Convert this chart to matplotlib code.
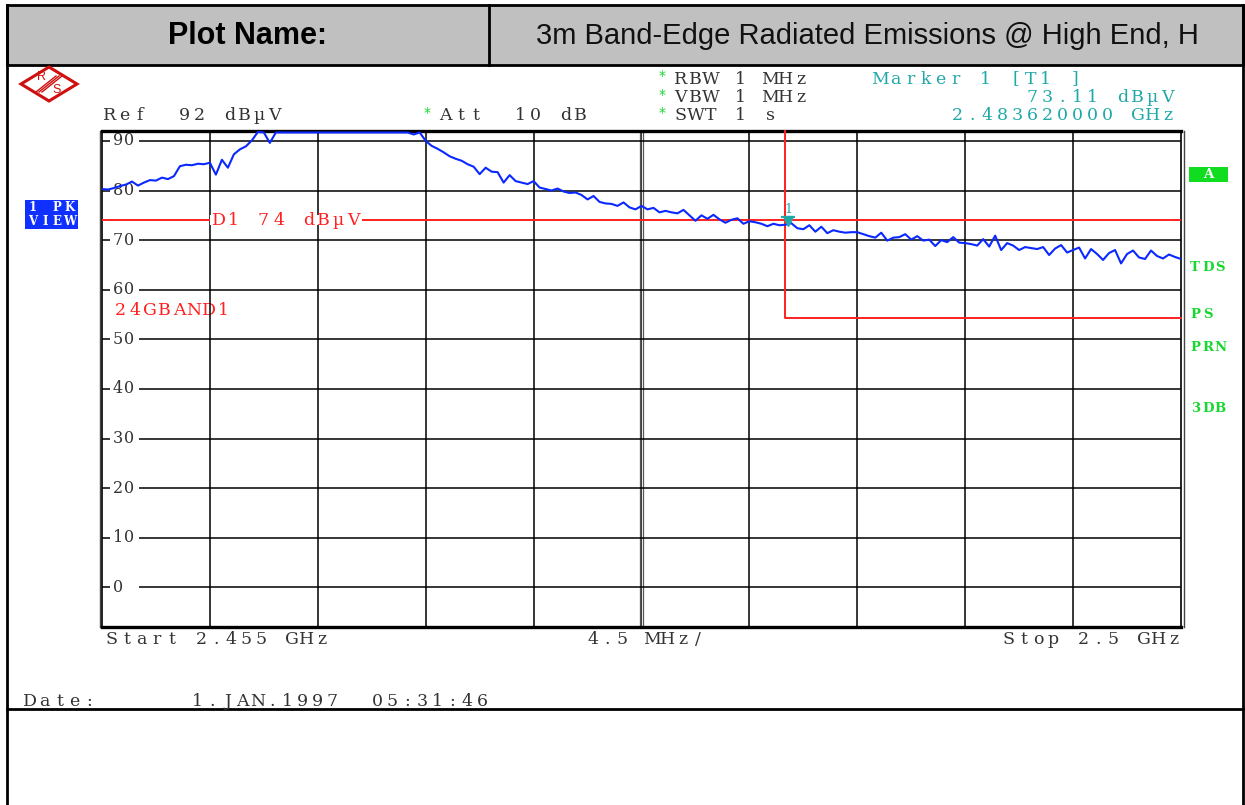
import numpy as np
import matplotlib
matplotlib.use("Agg")
import matplotlib.pyplot as plt
from matplotlib.patches import Rectangle, Polygon
from matplotlib.transforms import blended_transform_factory, offset_copy

# ---------------------------------------------------------------- data
start_ghz = 2.455
stop_ghz = 2.5
ref_level = 92          # dBuV, top of the screen
bottom_level = -8       # dBuV, bottom of the screen
ytick_levels = [90, 80, 70, 60, 50, 40, 30, 20, 10, 0]

# Peak trace, dBuV (181 points across the span)
trace_dbuv = [
    80.3, 80.2, 80.5, 80.9, 81.2, 81.8, 81.0, 81.6, 82.1, 82.0,
    82.6, 82.3, 82.9, 84.9, 85.2, 85.1, 85.4, 85.3, 85.6, 83.2,
    86.2, 84.6, 87.3, 88.3, 88.9, 90.1, 91.8, 91.7, 89.6, 91.7,
    91.7, 91.7, 91.7, 91.7, 91.7, 91.7, 91.7, 91.7, 91.7, 91.7,
    91.7, 91.7, 91.7, 91.7, 91.7, 91.7, 91.7, 91.7, 91.7, 91.7,
    91.7, 91.7, 91.3, 91.7, 90.0, 89.0, 88.4, 87.7, 86.9, 86.4,
    86.0, 85.3, 84.8, 83.3, 84.6, 83.8, 83.7, 81.6, 83.1, 81.9,
    81.6, 81.3, 81.9, 80.6, 80.3, 80.0, 80.4, 79.8, 79.5, 79.6,
    79.1, 78.2, 78.9, 77.7, 77.4, 77.3, 76.9, 77.6, 76.6, 76.2,
    76.9, 76.2, 76.5, 75.6, 75.9, 75.6, 75.4, 76.1, 75.0, 73.9,
    75.0, 74.3, 75.1, 74.2, 73.5, 74.1, 74.4, 73.3, 73.8, 73.6,
    73.3, 72.8, 73.3, 73.0, 73.1, 73.4, 72.4, 72.2, 73.0, 71.7,
    72.7, 71.4, 72.0, 71.7, 71.5, 71.6, 71.6, 71.2, 70.8, 70.5,
    71.5, 69.9, 70.5, 70.6, 71.2, 70.1, 70.8, 69.9, 70.1, 68.8,
    70.0, 69.6, 70.6, 69.5, 69.4, 69.2, 68.9, 70.2, 68.7, 70.9,
    68.0, 69.4, 68.9, 68.0, 68.6, 68.4, 68.2, 68.6, 67.0, 68.3,
    69.0, 67.5, 68.0, 68.5, 66.3, 68.2, 67.2, 66.0, 67.4, 68.0,
    65.3, 67.2, 67.9, 66.5, 66.2, 67.9, 66.8, 66.3, 67.1, 66.6,
    66.2,
]

display_line_dbuv = 74.0          # D1
band_edge_ghz = 2.4835            # frequency line
band_edge_floor_dbuv = 54.3       # lower step of the band-edge line
marker_ghz = 2.48362
marker_dbuv = 73.11

# ---------------------------------------------------------------- style
W, H = 1245, 805
BLUE = "#0a28ff"
RED = "#ff2020"
TEAL = "#20a8a8"
GREEN = "#18d830"
TXT = "#333333"
MONO = "DejaVu Serif"

fig = plt.figure(figsize=(W / 100, H / 100), dpi=100)
fig.patch.set_facecolor("white")

# page layer in pixel coordinates
pg = fig.add_axes([0, 0, 1, 1])
pg.set_xlim(0, W)
pg.set_ylim(H, 0)
pg.axis("off")


def spaced(ax, x, y, s, pitch=15.0, size=12.5, color=TXT, weight="normal",
           transform=None, zorder=5):
    """Draw a string one character per fixed-width cell (instrument font look)."""
    tr = transform if transform is not None else pg.transData
    for i, ch in enumerate(s):
        if ch == " ":
            continue
        ax.text(x + (i + 0.5) * pitch, y, ch, ha="center", va="center",
                fontsize=size, color=color, family=MONO, fontweight=weight,
                transform=tr, zorder=zorder, clip_on=False)


# header band
pg.add_patch(Rectangle((7, 5), 1236, 60, facecolor="#c0c0c0",
                       edgecolor="black", lw=2.0))
pg.plot([489, 489], [5, 65], color="black", lw=2.0)
pg.text(248, 36, "Plot Name:", ha="center", va="center", fontsize=22,
        fontweight="bold", family="Liberation Sans", color="black")
pg.text(867, 36, "3m Band-Edge Radiated Emissions @ High End, H",
        ha="center", va="center", fontsize=21, family="Liberation Sans",
        color="#111111")

# page frame
pg.plot([7, 7], [5, H], color="black", lw=2.0)
pg.plot([1243, 1243], [5, H], color="black", lw=2.0)
pg.plot([7, 1243], [709, 709], color="black", lw=2.0)

# R&S logo
cx, cy = 49, 84
pg.add_patch(Polygon([(cx - 28, cy), (cx, cy - 17), (cx + 28, cy), (cx, cy + 17)],
                     closed=True, facecolor="white", edgecolor="#d01010", lw=2.2))
for d in (-3, 0, 3):
    pg.plot([cx - 10 + d, cx + 10 + d], [cy + 8, cy - 8],
            color="#d01010", lw=1.0)
pg.text(cx - 8, cy - 7, "R", fontsize=9, color="#d01010", ha="center",
        va="center", family="Liberation Sans")
pg.text(cx + 8, cy + 6, "S", fontsize=9, color="#d01010", ha="center",
        va="center", family="Liberation Sans")

# settings text
spaced(pg, 102, 116, "Ref  92 dB\u00b5V")
pg.text(427, 113, "*", color=GREEN, fontsize=10, ha="center", va="center")
spaced(pg, 438, 116, "Att  10 dB")
for row, s in zip((79, 98, 116), ("RBW 1 MHz", "VBW 1 MHz", "SWT 1 s")):
    pg.text(662, row - 3, "*", color=GREEN, fontsize=10, ha="center", va="center")
    spaced(pg, 673, row, s)
spaced(pg, 873, 79, "Marker 1 [T1 ]", color=TEAL)
spaced(pg, 1175 - 15 * 10, 98, "73.11 dB\u00b5V", color=TEAL)
spaced(pg, 1175 - 15 * 15, 116, "2.483620000 GHz", color=TEAL)

# trace-mode badge
pg.add_patch(Rectangle((25, 200), 53, 29, facecolor="#1030ff", edgecolor="none"))
spaced(pg, 26, 207, "1 PK", pitch=12.5, size=8.5, color="white", weight="bold")
spaced(pg, 26, 221, "VIEW", pitch=12.5, size=8.5, color="white", weight="bold")

# right-hand status labels
pg.add_patch(Rectangle((1189, 167), 39, 15, facecolor="#10dd20", edgecolor="none"))
pg.text(1208, 174.5, "A", color="white", fontsize=9.5, fontweight="bold",
        family=MONO, ha="center", va="center")
for yy, s in ((267, "TDS"), (314, "PS"), (347, "PRN"), (408, "3DB")):
    spaced(pg, 1189, yy, s, pitch=12.5, size=9.5, color=GREEN, weight="bold")

# footer text
spaced(pg, 104, 639, "Start 2.455 GHz")
spaced(pg, 585, 639, "4.5 MHz/")
spaced(pg, 1181 - 15 * 12, 639, "Stop 2.5 GHz")
spaced(pg, 22, 701, "Date:")
spaced(pg, 190, 701, "1.JAN.1997  05:31:46")
spaced(pg, 113, 310, "24GBAND1", pitch=14.7, color=RED, zorder=4)

# ---------------------------------------------------------------- screen
x0, x1, y0, y1 = 102, 1181, 131, 627
ax = fig.add_axes([x0 / W, 1 - y1 / H, (x1 - x0) / W, (y1 - y0) / H])
ax.set_xlim(start_ghz, stop_ghz)
ax.set_ylim(bottom_level, ref_level)
ax.set_facecolor("none")
ax.set_xticks([])
ax.set_yticks([])
for side in ("top", "bottom"):
    ax.spines[side].set_linewidth(2.4)
for side in ("left", "right"):
    ax.spines[side].set_linewidth(1.2)

div = (stop_ghz - start_ghz) / 10
xgrid = [start_ghz + k * div for k in range(1, 10)]
for xv in xgrid:
    ax.axvline(xv, color="black", lw=1.1, zorder=1)
# centre division is drawn doubled
mid = start_ghz + 5 * div
for off in (-1.6, 1.6):
    ax.plot([mid, mid], [0, 1], color="#555555", lw=0.9, zorder=1,
            transform=offset_copy(ax.get_xaxis_transform(), fig, x=off, units="dots"))
for yv in ytick_levels:
    ax.axhline(yv, color="black", lw=1.1, zorder=1)

# outer doubled edges of the screen
pg.plot([x0 - 2.5, x0 - 2.5], [y0, y1], color="#444444", lw=1.0, zorder=0)
pg.plot([x1 + 2.5, x1 + 2.5], [y0, y1], color="#444444", lw=1.0, zorder=0)

# level labels sitting on their grid lines
lab_tr = blended_transform_factory(pg.transData, ax.transData)
for yv in ytick_levels:
    ax.add_patch(Rectangle((110, yv - 1.0), 29, 2.0, transform=lab_tr,
                           facecolor="white", edgecolor="none", zorder=2))
    spaced(ax, 112, yv, str(yv), pitch=11.5, size=11.5, transform=lab_tr, zorder=3)

# display line D1
ax.axhline(display_line_dbuv, color=RED, lw=1.4, zorder=3)
ax.add_patch(Rectangle((210, display_line_dbuv - 1.0), 152, 2.0, transform=lab_tr,
                       facecolor="white", edgecolor="none", zorder=3.5))
spaced(ax, 211, display_line_dbuv, "D1 74 dB\u00b5V", color=RED, transform=lab_tr,
       zorder=4)

# band-edge frequency line with its lower step
ax.plot([band_edge_ghz, band_edge_ghz, stop_ghz],
        [ref_level, band_edge_floor_dbuv, band_edge_floor_dbuv],
        color=RED, lw=1.4, zorder=3, clip_on=False)

# spectrum trace
freqs = np.linspace(start_ghz, stop_ghz, len(trace_dbuv))
ax.plot(freqs, trace_dbuv, color=BLUE, lw=1.5, zorder=5)

# marker 1
mk_tr = offset_copy(ax.transData, fig, x=0, y=4, units="dots")
ax.plot([marker_ghz], [marker_dbuv], marker="v", ms=7, color=TEAL,
        transform=mk_tr, zorder=6, clip_on=False)
ax.plot([marker_ghz], [marker_dbuv], marker="_", ms=10, mew=1.5, color=TEAL,
        transform=offset_copy(ax.transData, fig, x=0, y=8, units="dots"),
        zorder=6, clip_on=False)
ax.text(marker_ghz, marker_dbuv, "1", color=TEAL, fontsize=9, family=MONO,
        ha="center", va="bottom",
        transform=offset_copy(ax.transData, fig, x=0, y=9, units="dots"),
        zorder=6)

fig.savefig("out.png", dpi=100)
